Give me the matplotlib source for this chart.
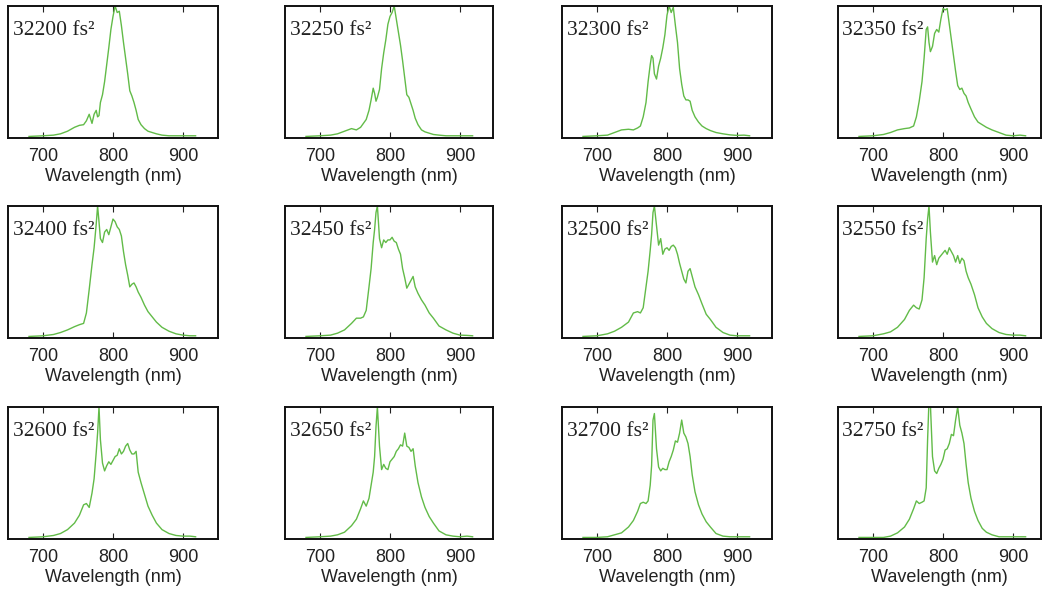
import matplotlib
matplotlib.use('Agg')
import matplotlib.pyplot as plt
import numpy as np

# wavelength grid (nm), shared by all spectra
wl = [680, 700, 715, 725, 735, 745, 752, 758, 762, 766, 770, 773, 776, 778, 780,
      782, 785, 788, 791, 794, 797, 800, 803, 806, 809, 812, 815, 818, 821, 824,
      827, 830, 833, 836, 840, 845, 850, 856, 862, 870, 880, 890, 900, 910, 918]

# group delay dispersion for each panel (fs^2)
gdd = [32200, 32250, 32300, 32350, 32400, 32450, 32500, 32550, 32600, 32650, 32700, 32750]

# normalised spectra
s32200 = [0, 0.005, 0.01, 0.02, 0.04, 0.07, 0.085, 0.09, 0.12, 0.17, 0.10, 0.17, 0.20, 0.15, 0.16,
          0.26, 0.32, 0.42, 0.55, 0.68, 0.82, 0.92, 1.0, 0.95, 0.96, 0.85, 0.72, 0.60, 0.48, 0.35,
          0.31, 0.26, 0.20, 0.13, 0.09, 0.06, 0.04, 0.03, 0.02, 0.01, 0.005, 0.005, 0.005, 0.005, 0.005]
s32250 = [0, 0.005, 0.01, 0.02, 0.04, 0.06, 0.05, 0.07, 0.10, 0.13, 0.20, 0.28, 0.37, 0.33, 0.27,
          0.30, 0.36, 0.52, 0.64, 0.74, 0.86, 0.92, 0.95, 1.0, 0.90, 0.80, 0.70, 0.58, 0.45, 0.32,
          0.30, 0.25, 0.20, 0.14, 0.09, 0.05, 0.035, 0.025, 0.015, 0.01, 0.005, 0.005, 0.005, 0.005, 0.005]
s32300 = [0, 0.005, 0.01, 0.03, 0.05, 0.055, 0.05, 0.065, 0.08, 0.15, 0.26, 0.42, 0.55, 0.62, 0.60,
          0.48, 0.44, 0.54, 0.60, 0.68, 0.78, 0.93, 1.0, 0.95, 0.99, 0.85, 0.72, 0.52, 0.40, 0.31,
          0.28, 0.28, 0.27, 0.20, 0.15, 0.11, 0.08, 0.06, 0.045, 0.03, 0.02, 0.012, 0.008, 0.01, 0.005]
s32350 = [0, 0.005, 0.015, 0.03, 0.05, 0.06, 0.065, 0.08, 0.15, 0.27, 0.42, 0.60, 0.82, 0.84, 0.72,
          0.65, 0.69, 0.79, 0.82, 0.80, 0.90, 0.98, 0.97, 0.98, 0.86, 0.74, 0.62, 0.50, 0.39, 0.36,
          0.37, 0.33, 0.31, 0.26, 0.21, 0.15, 0.11, 0.09, 0.07, 0.05, 0.03, 0.01, 0.005, 0.01, 0.005]
s32400 = [0, 0.005, 0.015, 0.03, 0.05, 0.075, 0.09, 0.10, 0.18, 0.36, 0.55, 0.68, 0.86, 1.0, 0.88,
          0.75, 0.72, 0.80, 0.82, 0.78, 0.84, 0.90, 0.88, 0.84, 0.82, 0.77, 0.65, 0.55, 0.47, 0.38,
          0.40, 0.41, 0.38, 0.34, 0.30, 0.24, 0.19, 0.15, 0.11, 0.07, 0.04, 0.02, 0.01, 0.005, 0.005]
s32450 = [0, 0.005, 0.01, 0.025, 0.05, 0.10, 0.14, 0.14, 0.15, 0.20, 0.38, 0.52, 0.72, 0.82, 0.95,
          1.0, 0.75, 0.68, 0.74, 0.72, 0.74, 0.74, 0.76, 0.73, 0.72, 0.67, 0.63, 0.52, 0.45, 0.37,
          0.40, 0.43, 0.46, 0.38, 0.33, 0.28, 0.24, 0.18, 0.14, 0.08, 0.05, 0.025, 0.01, 0.008, 0.005]
s32500 = [0, 0.005, 0.02, 0.04, 0.07, 0.11, 0.18, 0.19, 0.18, 0.22, 0.38, 0.50, 0.66, 0.78, 0.95,
          1.0, 0.85, 0.70, 0.75, 0.63, 0.67, 0.68, 0.66, 0.69, 0.70, 0.68, 0.63, 0.56, 0.50, 0.44,
          0.41, 0.50, 0.52, 0.46, 0.38, 0.32, 0.25, 0.17, 0.13, 0.07, 0.03, 0.01, 0.005, 0.005, 0.005]
s32550 = [0, 0.005, 0.02, 0.035, 0.07, 0.13, 0.20, 0.24, 0.22, 0.21, 0.28, 0.45, 0.75, 0.90, 1.0,
          0.80, 0.57, 0.62, 0.55, 0.60, 0.62, 0.64, 0.66, 0.63, 0.68, 0.65, 0.62, 0.57, 0.62, 0.56,
          0.60, 0.58, 0.50, 0.45, 0.40, 0.32, 0.22, 0.15, 0.10, 0.06, 0.03, 0.015, 0.01, 0.01, 0.005]
s32600 = [0, 0.005, 0.015, 0.03, 0.06, 0.11, 0.17, 0.25, 0.26, 0.23, 0.34, 0.45, 0.65, 0.80, 1.0,
          0.75, 0.57, 0.51, 0.55, 0.58, 0.56, 0.59, 0.62, 0.63, 0.68, 0.64, 0.66, 0.70, 0.72, 0.67,
          0.64, 0.64, 0.66, 0.50, 0.42, 0.33, 0.24, 0.17, 0.11, 0.06, 0.03, 0.015, 0.01, 0.01, 0.005]
s32650 = [0, 0.005, 0.01, 0.02, 0.04, 0.09, 0.14, 0.22, 0.28, 0.24, 0.30, 0.40, 0.50, 0.62, 0.85,
          1.0, 0.70, 0.52, 0.56, 0.53, 0.52, 0.58, 0.60, 0.62, 0.66, 0.68, 0.71, 0.70, 0.80, 0.70,
          0.69, 0.66, 0.68, 0.55, 0.42, 0.31, 0.23, 0.16, 0.11, 0.05, 0.02, 0.01, 0.005, 0.01, 0.005]
s32700 = [0, 0.0, 0.005, 0.02, 0.035, 0.08, 0.13, 0.20, 0.26, 0.27, 0.26, 0.28, 0.40, 0.55, 0.90,
          0.95, 0.68, 0.54, 0.51, 0.53, 0.52, 0.52, 0.58, 0.62, 0.67, 0.74, 0.73, 0.80, 0.90, 0.80,
          0.77, 0.72, 0.62, 0.48, 0.35, 0.25, 0.18, 0.12, 0.08, 0.03, 0.01, 0.005, 0.005, 0.005, 0.005]
s32750 = [0, 0.0, 0.0, 0.01, 0.035, 0.08, 0.14, 0.22, 0.28, 0.26, 0.27, 0.28, 0.38, 0.75, 1.05,
          1.02, 0.62, 0.51, 0.49, 0.53, 0.56, 0.60, 0.67, 0.68, 0.72, 0.79, 0.78, 0.90, 1.0, 0.86,
          0.80, 0.72, 0.56, 0.42, 0.30, 0.20, 0.13, 0.07, 0.04, 0.02, 0.005, 0.005, 0.005, 0.005, 0.005]

spectra = [s32200, s32250, s32300, s32350, s32400, s32450,
           s32500, s32550, s32600, s32650, s32700, s32750]

W, H = 1042, 592
fig = plt.figure(figsize=(W / 100, H / 100), dpi=100)

col_left = [8, 285, 562, 838]    # px
col_width = [210, 208, 210, 203]
row_top = [6, 206, 407]
ax_h = 132
line_color = '#62bb48'

for i in range(len(gdd)):
    r = i // 4
    c = i % 4
    ax = fig.add_axes([col_left[c] / W, 1 - (row_top[r] + ax_h) / H,
                       col_width[c] / W, ax_h / H])
    ax.plot(wl, spectra[i], color=line_color, lw=1.0)
    # last column is cut off at the right edge of the original figure
    ax.set_xlim(650, 650 + 300 * col_width[c] / 210)
    ax.set_ylim(-0.012, 1.0)
    ax.set_xticks([700, 800, 900])
    ax.set_yticks([])
    ax.tick_params(axis='x', direction='in', top=True, length=4, width=0.8,
                   labelsize=13, colors='#222222', labelcolor='#222222', pad=7.5)
    for lab in ax.get_xticklabels():
        lab.set_family('Liberation Sans')
    for sp in ax.spines.values():
        sp.set_linewidth(1.4)
        sp.set_color('#111111')
    ax.set_xlabel('Wavelength (nm)', fontsize=13, family='Liberation Sans',
                  color='#222222', labelpad=2)
    ax.text(0.022, 0.89, str(gdd[i]) + ' fs²', transform=ax.transAxes,
            fontsize=15.5, family='Liberation Serif', color='#222222',
            ha='left', va='top')

plt.savefig('out.png', dpi=100)
print('Successfully created out.png')
